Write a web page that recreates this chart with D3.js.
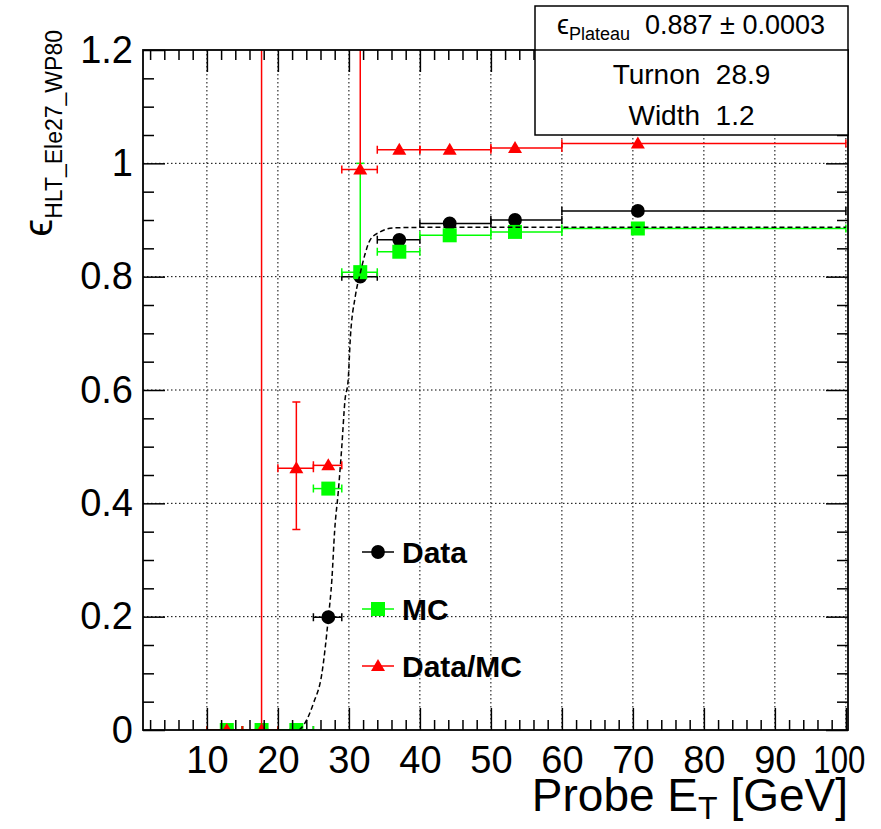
<!DOCTYPE html>
<html>
<head>
<meta charset="utf-8">
<script src="https://cdn.jsdelivr.net/npm/d3@7"></script>
<style>
body { margin: 0; background: #fff; }
text { font-family: "Liberation Sans", Arial, Helvetica, sans-serif; }
</style>
</head>
<body>
<script>
// bins of probe ET and the three efficiency series
var binLo = [10, 15, 20, 25, 29, 34, 40, 50, 60];
var binHi = [15, 20, 25, 29, 34, 40, 50, 60, 100];
var binX = [12.8, 17.7, 22.6, 27.1, 31.6, 37.1, 44.2, 53.4, 70.7];

var dataEff = [0, 0, 0, 0.199, 0.800, 0.865, 0.894, 0.900, 0.916];
var mcEff = [0, 0, 0, 0.426, 0.808, 0.844, 0.873, 0.879, 0.885];
var mcErrLo = [0, 0, 0, 0, 0, 0, 0, 0, 0];
var mcErrHi = [0, 0, 0, 0, 0.192, 0, 0, 0, 0];
var ratioEff = [0, 0, 0.462, 0.467, 0.989, 1.024, 1.024, 1.027, 1.035];
var ratioErrLo = [0, 0, 0.108, 0, 0, 0, 0, 0, 0];
var ratioErrHi = [0, 2, 0.117, 0, 1, 0, 0, 0, 0];

// fit curve
var fitX = [23.0, 23.8, 25.0, 26.2, 27.1, 27.6, 28.0, 28.5, 29.0, 29.45, 29.9, 30.2, 30.9, 31.6, 32.3, 33.0, 34.4, 36.3, 40, 100];
var fitY = [0, 0.012, 0.047, 0.100, 0.197, 0.265, 0.353, 0.420, 0.500, 0.582, 0.618, 0.691, 0.765, 0.806, 0.841, 0.865, 0.879, 0.886, 0.887, 0.887];

var xMajor = [10, 20, 30, 40, 50, 60, 70, 80, 90, 100];
var yMajor = [0, 0.2, 0.4, 0.6, 0.8, 1, 1.2];

var legendNames = ['Data', 'MC', 'Data/MC'];
var statLines = ['Turnon  28.9', 'Width  1.2'];

var padL = 143, padR = 848, padT = 50, padB = 730;

var svg = d3.select('body').append('svg')
	.attr('width', 881)
	.attr('height', 829);

var x = d3.scaleLinear().domain([1, 100.3]).range([padL, padR]);
var y = d3.scaleLinear().domain([0, 1.2]).range([padB, padT]);

var xMinor = d3.range(2, 100, 2).filter(function(d){ return d % 10 != 0; });
var yMinor = d3.range(0.05, 1.2, 0.05).filter(function(d){ return Math.abs(d * 5 - Math.round(d * 5)) > 0.01; });

// grid
var grid = svg.append('g').attr('stroke', '#000').attr('stroke-width', 1).attr('stroke-dasharray', '1.5,2.5');
grid.selectAll('.gx').data(xMajor).enter().append('line')
	.attr('x1', d => x(d)).attr('x2', d => x(d)).attr('y1', padT).attr('y2', padB);
grid.selectAll('.gy').data(yMajor.slice(1, 6)).enter().append('line')
	.attr('y1', d => y(d)).attr('y2', d => y(d)).attr('x1', padL).attr('x2', padR);

// clip for the plotting area
svg.append('clipPath').attr('id', 'frame').append('rect')
	.attr('x', padL).attr('y', padT).attr('width', padR - padL).attr('height', padB - padT);
var plot = svg.append('g').attr('clip-path', 'url(#frame)');

function draw_series(vals, errLo, errHi, color, marker){
	var g = plot.append('g').attr('stroke', color).attr('stroke-width', 1.5).attr('fill', 'none');
	var idx = d3.range(vals.length);
	// horizontal bars
	g.selectAll('.h').data(idx).enter().append('line')
		.attr('x1', i => x(binLo[i])).attr('x2', i => x(binHi[i]))
		.attr('y1', i => y(vals[i])).attr('y2', i => y(vals[i]));
	g.selectAll('.hc').data(idx).enter().append('path')
		.attr('d', i => 'M' + x(binLo[i]) + ',' + (y(vals[i]) - 4) + 'v8M' + x(binHi[i]) + ',' + (y(vals[i]) - 4) + 'v8');
	// vertical bars
	var ve = idx.filter(i => errLo[i] > 0 || errHi[i] > 0);
	g.selectAll('.v').data(ve).enter().append('line')
		.attr('x1', i => x(binX[i])).attr('x2', i => x(binX[i]))
		.attr('y1', i => y(vals[i] - errLo[i])).attr('y2', i => y(vals[i] + errHi[i]));
	g.selectAll('.vc').data(ve).enter().append('path')
		.attr('d', function(i){
			var p = '';
			if(errLo[i] > 0) p += 'M' + (x(binX[i]) - 4) + ',' + y(vals[i] - errLo[i]) + 'h8';
			if(errHi[i] > 0) p += 'M' + (x(binX[i]) - 4) + ',' + y(vals[i] + errHi[i]) + 'h8';
			return p;
		});
	var m = plot.append('g').attr('fill', color);
	m.selectAll('.m').data(idx).enter().append('path')
		.attr('transform', i => 'translate(' + x(binX[i]) + ',' + y(vals[i]) + ')')
		.attr('d', marker);
}

var circle = d3.symbol().type(d3.symbolCircle).size(150)();
var square = 'M-7,-7h14v14h-14z';
var triangle = 'M0,-7L7,5L-7,5z';

var zeros = dataEff.map(d => 0);
draw_series(dataEff, zeros, zeros, '#000', circle);
draw_series(mcEff, mcErrLo, mcErrHi, '#00ff00', square);

// fit
var fitLine = d3.line().x(d => x(d[0])).y(d => y(d[1])).curve(d3.curveMonotoneX);
plot.append('path')
	.datum(fitX.map((d, i) => [d, fitY[i]]))
	.attr('d', fitLine)
	.attr('fill', 'none').attr('stroke', '#000').attr('stroke-width', 1.5)
	.attr('stroke-dasharray', '5,3');

draw_series(ratioEff, ratioErrLo, ratioErrHi, '#ff0000', triangle);

// axes, ticks pointing inward
function axis_call(gen, transform){
	var g = svg.append('g').attr('transform', transform).call(gen);
	g.select('.domain').remove();
	g.selectAll('.tick line').attr('stroke', '#000').attr('stroke-width', 1.5);
	return g;
}
var labelSize = '38px';
var xb = axis_call(d3.axisBottom(x).tickValues(xMajor).tickSize(-22).tickPadding(16), 'translate(0,' + padB + ')');
xb.selectAll('text').attr('font-size', labelSize).attr('fill', '#000').attr('font-family', null);
// last label squeezed to stay inside the canvas, as in the original
xb.selectAll('text').filter(d => d == 100)
	.attr('dx', -7).attr('textLength', 52).attr('lengthAdjust', 'spacingAndGlyphs');
axis_call(d3.axisBottom(x).tickValues(xMinor).tickSize(-10).tickFormat(''), 'translate(0,' + padB + ')');
axis_call(d3.axisTop(x).tickValues(xMajor).tickSize(-22).tickFormat(''), 'translate(0,' + padT + ')');
axis_call(d3.axisTop(x).tickValues(xMinor).tickSize(-10).tickFormat(''), 'translate(0,' + padT + ')');

var yl = axis_call(d3.axisLeft(y).tickValues(yMajor).tickSize(-22).tickPadding(10).tickFormat(d3.format('~g')), 'translate(' + padL + ',0)');
yl.selectAll('text').attr('font-size', labelSize).attr('fill', '#000').attr('font-family', null);
axis_call(d3.axisLeft(y).tickValues(yMinor).tickSize(-11).tickFormat(''), 'translate(' + padL + ',0)');
axis_call(d3.axisRight(y).tickValues(yMajor).tickSize(-22).tickFormat(''), 'translate(' + padR + ',0)');
axis_call(d3.axisRight(y).tickValues(yMinor).tickSize(-11).tickFormat(''), 'translate(' + padR + ',0)');

svg.append('rect')
	.attr('x', padL).attr('y', padT).attr('width', padR - padL).attr('height', padB - padT)
	.attr('fill', 'none').attr('stroke', '#000').attr('stroke-width', 1.8);

// axis titles
var xt = svg.append('text')
	.attr('x', padR).attr('y', 811)
	.attr('text-anchor', 'end').attr('font-size', '46px');
xt.append('tspan').text('Probe E');
xt.append('tspan').attr('font-size', '32px').attr('dy', 8).text('T');
xt.append('tspan').attr('dy', -8).text(' [GeV]');

var yt = svg.append('text')
	.attr('transform', 'translate(52,30) rotate(-90)')
	.attr('text-anchor', 'end').attr('font-size', '40px');
yt.append('tspan').text('ϵ');
yt.append('tspan').attr('font-size', '23px').attr('dy', 10).text('HLT_Ele27_WP80');

// legend
var legColors = ['#000', '#00ff00', '#ff0000'];
var legMarkers = [circle, square, triangle];
var legY = [552, 609, 666];
var leg = svg.append('g');
legendNames.forEach(function(name, i){
	leg.append('line').attr('x1', 362).attr('x2', 394).attr('y1', legY[i]).attr('y2', legY[i])
		.attr('stroke', legColors[i]).attr('stroke-width', 1.5);
	leg.append('path').attr('transform', 'translate(378,' + legY[i] + ')').attr('d', legMarkers[i]).attr('fill', legColors[i]);
	leg.append('text').attr('x', 402).attr('y', legY[i] + 11).attr('font-size', '30px').attr('font-weight', 'bold').text(name);
});

// stat box
var box = svg.append('g');
box.append('rect').attr('x', 535).attr('y', 6).attr('width', padR - 535).attr('height', 129)
	.attr('fill', '#fff').attr('stroke', '#000').attr('stroke-width', 1.5);
box.append('line').attr('x1', 535).attr('x2', padR).attr('y1', 50).attr('y2', 50)
	.attr('stroke', '#000').attr('stroke-width', 1.5);
var st = box.append('text').attr('x', 557).attr('y', 34).attr('font-size', '27px');
st.append('tspan').text('ϵ');
st.append('tspan').attr('font-size', '18px').attr('dy', 6).text('Plateau');
st.append('tspan').attr('x', 645).attr('dy', -6).text('0.887 ± 0.0003');
box.selectAll('.sl').data(statLines).enter().append('text')
	.attr('x', (535 + padR) / 2).attr('y', (d, i) => 84 + i * 41)
	.attr('text-anchor', 'middle').attr('font-size', '28px')
	.text(d => d.replace(/ /g, '\u00a0'));
</script>
</body>
</html>
